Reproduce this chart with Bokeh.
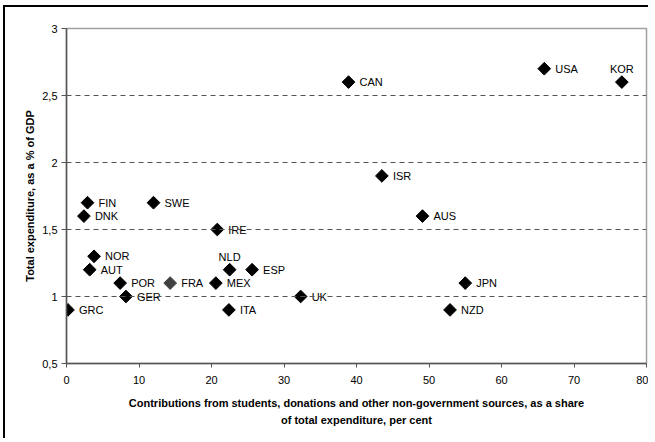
import math
from bokeh.plotting import figure
from bokeh.models import ColumnDataSource, FixedTicker, Span
from bokeh.core.properties import value
from bokeh.embed import file_html
from bokeh.resources import INLINE

# ---- data ----
countries = ["GRC", "FIN", "DNK", "NOR", "AUT", "POR", "GER", "FRA", "SWE", "IRE",
             "MEX", "NLD", "ESP", "ITA", "UK", "CAN", "ISR", "AUS", "NZD", "JPN",
             "USA", "KOR"]
private_share = [0.2, 2.9, 2.4, 3.8, 3.2, 7.4, 8.2, 14.3, 12.0, 20.8,
                 20.6, 22.5, 25.6, 22.4, 32.3, 38.9, 43.5, 49.1, 52.9, 55.0,
                 65.9, 76.6]
total_exp = [0.9, 1.7, 1.6, 1.3, 1.2, 1.1, 1.0, 1.1, 1.7, 1.5,
             1.1, 1.2, 1.2, 0.9, 1.0, 2.6, 1.9, 1.6, 0.9, 1.1,
             2.7, 2.6]
x_ticks = [0, 10, 20, 30, 40, 50, 60, 70, 80]
y_ticks = [0.5, 1.0, 1.5, 2.0, 2.5, 3.0]
y_tick_labels = ["0,5", "1", "1,5", "2", "2,5", "3"]
grid_levels = [1.0, 1.5, 2.0, 2.5]
labels_above = ["NLD", "KOR"]

FONT = "Liberation Sans"

p = figure(width=645, height=433, output_backend="svg", toolbar_location=None,
           x_range=(0, 80), y_range=(0.5, 3.0),
           min_border_left=61, min_border_right=4, min_border_top=21, min_border_bottom=77)
p.styles = {"border-left": "2px solid #000000", "border-top": "2px solid #000000",
            "margin-left": "3px", "margin-top": "5px"}
p.background_fill_color = "white"
p.border_fill_color = "white"
p.outline_line_color = "#a0a0a0"
p.outline_line_width = 1.5
p.xgrid.visible = False
p.ygrid.visible = False

for lvl in grid_levels:
    p.add_layout(Span(location=lvl, dimension="width", line_color="#555555",
                      line_width=1, line_dash="5 4"))

# axes
for ax in (p.xaxis[0], p.yaxis[0]):
    ax.axis_line_color = "#555555"
    ax.axis_line_width = 1.5
    ax.major_tick_line_color = "#555555"
    ax.major_tick_line_width = 1
    ax.minor_tick_line_color = None
    ax.major_tick_in = 0
    ax.major_label_text_font = FONT
    ax.major_label_text_font_size = "11px"
    ax.major_label_text_color = "#000000"
    ax.axis_label_text_font = FONT
    ax.axis_label_text_font_size = "11px"
    ax.axis_label_text_font_style = "bold"
    ax.axis_label_text_color = "#000000"

p.xaxis.ticker = FixedTicker(ticks=x_ticks)
p.xaxis.major_tick_out = 4
p.xaxis.major_label_standoff = 8
p.xaxis.axis_label = ("Contributions from students, donations and other non-government sources, as a share\n"
                      "of total expenditure, per cent")
p.xaxis.axis_label_standoff = 10
p.xaxis.axis_label_text_line_height = 1.45

p.yaxis.ticker = FixedTicker(ticks=y_ticks)
p.yaxis.major_label_overrides = {t: l for t, l in zip(y_ticks, y_tick_labels)}
p.yaxis.major_tick_out = 5
p.yaxis.major_label_standoff = 4
p.yaxis.axis_label = "Total expenditure, as a % of GDP"
p.yaxis.axis_label_standoff = 3

colors = ["#404040" if c == "FRA" else "#000000" for c in countries]
src = ColumnDataSource(dict(x=private_share, y=total_exp, name=countries, color=colors))
p.scatter("x", "y", source=src, marker="square", size=9, angle=math.pi / 4,
          fill_color="color", line_color="color")

right_idx = [i for i, c in enumerate(countries) if c not in labels_above]
above_idx = [i for i, c in enumerate(countries) if c in labels_above]

src_r = ColumnDataSource(dict(x=[private_share[i] for i in right_idx],
                              y=[total_exp[i] for i in right_idx],
                              t=[countries[i] for i in right_idx]))
p.text("x", "y", text="t", source=src_r, x_offset=11, y_offset=0,
       text_font=value(FONT), text_font_size="11px", text_color="#000000",
       text_baseline="middle", text_align="left")

src_a = ColumnDataSource(dict(x=[private_share[i] for i in above_idx],
                              y=[total_exp[i] for i in above_idx],
                              t=[countries[i] for i in above_idx]))
p.text("x", "y", text="t", source=src_a, x_offset=0, y_offset=-13,
       text_font=value(FONT), text_font_size="11px", text_color="#000000",
       text_baseline="middle", text_align="center")

open("out.html", "w").write(file_html(p, INLINE))
